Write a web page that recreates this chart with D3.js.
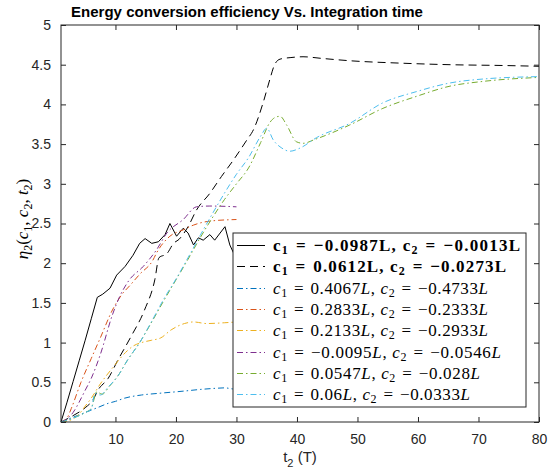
<!DOCTYPE html>
<html>
<head>
<meta charset="utf-8">
<script src="https://cdn.jsdelivr.net/npm/d3@7"></script>
<style>
  body { margin: 0; background: #fff; }
  text { font-family: "Liberation Sans", Arial, sans-serif; }
  .math { font-family: "Liberation Serif", "DejaVu Serif", serif; }
</style>
</head>
<body>
<div class="container"></div>
<script>
// values, t2 (T) vs eta
const tSolid = [1, 2, 3, 4, 5, 6, 7, 7.9, 9.1, 10.2, 11.6, 12.9, 14, 14.9, 16, 17.1, 18.2, 19, 20.1, 21.2, 22, 22.9, 23.7, 24.5, 25.6, 26.4, 27.3, 28.1, 28.9, 30];
const etaSolid = [0, 0.25, 0.51, 0.77, 1.03, 1.3, 1.57, 1.61, 1.685, 1.85, 1.96, 2.1, 2.25, 2.31, 2.25, 2.27, 2.36, 2.5, 2.34, 2.44, 2.38, 2.23, 2.32, 2.29, 2.36, 2.29, 2.38, 2.46, 2.23, 2.05];

const tDashed = [1, 3, 5, 6.3, 7.1, 8.8, 10.4, 12.6, 14.8, 16.5, 17.2, 18.5, 19.6, 20.5, 22, 23.4, 25.6, 27.5, 29.5, 31.7, 32.8, 34.4, 35.5, 36.3, 37.2, 39, 41, 44, 48.7, 57, 65.3, 74, 80];
const etaDashed = [0, 0.08, 0.18, 0.28, 0.4, 0.55, 0.78, 1.08, 1.41, 1.79, 2.07, 2.12, 2.25, 2.3, 2.46, 2.67, 2.88, 3.09, 3.3, 3.55, 3.68, 4.02, 4.31, 4.5, 4.57, 4.59, 4.6, 4.58, 4.55, 4.52, 4.5, 4.49, 4.48];

const tBlue = [1, 2, 3, 4, 5, 6, 7, 8.8, 10, 11.5, 14.3, 17, 21.4, 24, 26.7, 28, 29.4, 30];
const etaBlue = [0, 0.03, 0.06, 0.09, 0.12, 0.15, 0.18, 0.235, 0.26, 0.3, 0.34, 0.36, 0.39, 0.41, 0.425, 0.43, 0.416, 0.41];

const tOrange = [1, 2, 2.7, 4.3, 6, 7.5, 9.5, 11, 12.4, 14, 16.2, 16.8, 19, 21.2, 22.9, 25.6, 30];
const etaOrange = [0, 0.05, 0.17, 0.5, 0.8, 1.06, 1.41, 1.6, 1.72, 1.86, 2.04, 2.13, 2.34, 2.42, 2.48, 2.53, 2.55];

const tYellow = [1, 2, 3, 4, 5, 6, 7.5, 9.5, 12, 13, 14.3, 16, 17.5, 19.2, 21.4, 22.9, 25.1, 28, 30];
const etaYellow = [0, 0.01, 0.04, 0.1, 0.2, 0.3, 0.48, 0.68, 0.9, 0.96, 1.0, 1.03, 1.06, 1.16, 1.24, 1.26, 1.24, 1.25, 1.26];

const tPurple = [1, 2, 3, 4, 5, 6, 7.5, 9.5, 10.7, 12.2, 14.6, 16.8, 18.5, 21.2, 23.4, 25.6, 30];
const etaPurple = [0, 0.04, 0.12, 0.25, 0.4, 0.55, 0.85, 1.35, 1.58, 1.78, 1.96, 2.17, 2.38, 2.55, 2.71, 2.72, 2.71];

const tGreen = [1, 2, 3, 4, 5, 6, 6.9, 7.8, 9, 10.4, 12, 14, 16, 18, 20, 22, 24, 26, 28, 30, 32, 34, 35.5, 36.5, 37.2, 38.3, 39.9, 41, 43, 48.7, 54.2, 59.7, 65.3, 70.8, 80];
const etaGreen = [0, 0.02, 0.05, 0.08, 0.12, 0.17, 0.38, 0.35, 0.45, 0.58, 0.78, 1.0, 1.26, 1.53, 1.79, 2.05, 2.32, 2.57, 2.8, 3.0, 3.2, 3.52, 3.77, 3.84, 3.85, 3.74, 3.53, 3.51, 3.56, 3.74, 3.95, 4.1, 4.23, 4.29, 4.34];

const tCyan = [1, 2, 3, 4, 5, 6, 6.6, 7.5, 8.8, 10.4, 12, 14, 16, 18, 20, 22, 24, 26, 28, 30, 32, 34, 35, 36.1, 37.5, 38.8, 40.5, 43.2, 48.7, 54.2, 59.7, 65.3, 70.8, 80];
const etaCyan = [0, 0.02, 0.05, 0.08, 0.12, 0.16, 0.36, 0.34, 0.44, 0.58, 0.78, 1.0, 1.27, 1.55, 1.8, 2.07, 2.35, 2.62, 2.88, 3.12, 3.33, 3.6, 3.7, 3.55, 3.45, 3.41, 3.45, 3.58, 3.76, 4.02, 4.16, 4.27, 4.32, 4.35];

const xTicks = [10, 20, 30, 40, 50, 60, 70, 80];
const yTicks = [0, 0.5, 1, 1.5, 2, 2.5, 3, 3.5, 4, 4.5, 5];

// legend labels: [c1, c2]
const c1Labels = ["\u22120.0987", "0.0612", "0.4067", "0.2833", "0.2133", "\u22120.0095", "0.0547", "0.06"];
const c2Labels = ["\u22120.0013", "\u22120.0273", "\u22120.4733", "\u22120.2333", "\u22120.2933", "\u22120.0546", "\u22120.028", "\u22120.0333"];

const dashDot = "6,3,1.5,3";
const series = [
  { t: tSolid, eta: etaSolid, color: "#000000", dash: null, bold: true, curve: d3.curveLinear },
  { t: tDashed, eta: etaDashed, color: "#000000", dash: "8,5", bold: true, curve: d3.curveMonotoneX },
  { t: tBlue, eta: etaBlue, color: "#0072BD", dash: dashDot, bold: false, curve: d3.curveMonotoneX },
  { t: tOrange, eta: etaOrange, color: "#D95319", dash: dashDot, bold: false, curve: d3.curveMonotoneX },
  { t: tYellow, eta: etaYellow, color: "#EDB120", dash: dashDot, bold: false, curve: d3.curveMonotoneX },
  { t: tPurple, eta: etaPurple, color: "#7E2F8E", dash: dashDot, bold: false, curve: d3.curveMonotoneX },
  { t: tGreen, eta: etaGreen, color: "#77AC30", dash: dashDot, bold: false, curve: d3.curveMonotoneX },
  { t: tCyan, eta: etaCyan, color: "#4DBEEE", dash: dashDot, bold: false, curve: d3.curveMonotoneX }
];

// legend text widths (px) measured on the reference
const legendTextWidths = [247, 233, 215, 215, 215, 228, 207, 197];

const W = 551, H = 474;
const margin = { top: 25, right: 12, bottom: 52, left: 61 },
  width = W - margin.left - margin.right,
  height = H - margin.top - margin.bottom;
const axisColor = "#262626";

const svg = d3
  .select(".container")
  .append("svg")
  .attr("width", W)
  .attr("height", H);

const g = svg.append("g").attr("transform", `translate(${margin.left}, ${margin.top})`);

const xScale = d3.scaleLinear().domain([1, 80]).range([0, width]);
const yScale = d3.scaleLinear().domain([0, 5]).range([height, 0]);

// lines
series.forEach((s) => {
  const pts = s.t.map((t, i) => [t, s.eta[i]]);
  g.append("path")
    .datum(pts)
    .attr("fill", "none")
    .attr("stroke", s.color)
    .attr("stroke-width", 1)
    .attr("stroke-dasharray", s.dash)
    .attr("d", d3.line().curve(s.curve).x((d) => xScale(d[0])).y((d) => yScale(d[1])));
});

// axes (box with inward ticks on all sides)
const styleAxis = (sel) => {
  sel.select(".domain").remove();
  sel.selectAll("line").attr("stroke", axisColor);
  sel.selectAll("text").attr("fill", axisColor).style("font-size", "14px")
    .style("font-family", "'Liberation Sans', Arial, sans-serif");
};

g.append("g")
  .attr("transform", `translate(0, ${height})`)
  .call(d3.axisBottom(xScale).tickValues(xTicks).tickSize(-5).tickPadding(12).tickFormat(d3.format("d")))
  .call(styleAxis);
g.append("g")
  .call(d3.axisTop(xScale).tickValues(xTicks).tickSize(-5).tickFormat(""))
  .call(styleAxis);
g.append("g")
  .call(d3.axisLeft(yScale).tickValues(yTicks).tickSize(-5).tickPadding(10).tickFormat((d) => d))
  .call(styleAxis);
g.append("g")
  .attr("transform", `translate(${width}, 0)`)
  .call(d3.axisRight(yScale).tickValues(yTicks).tickSize(-5).tickFormat(""))
  .call(styleAxis);

g.append("rect")
  .attr("width", width)
  .attr("height", height)
  .attr("fill", "none")
  .attr("stroke", axisColor)
  .attr("stroke-width", 1);

// title
svg.append("text")
  .attr("x", 247)
  .attr("y", 17)
  .attr("text-anchor", "middle")
  .style("font-size", "15px")
  .style("font-weight", "bold")
  .attr("fill", "#000")
  .text("Energy conversion efficiency Vs. Integration time");

// math text helper: parts = [[text, "i" | "n" | "s"]], s = subscript
const mathText = (el, parts, subSize, drop) => {
  let low = false;
  parts.forEach(([txt, kind]) => {
    const ts = el.append("tspan").text(txt);
    if (kind === "s") {
      ts.style("font-size", subSize + "px").style("font-style", "normal");
      if (!low) ts.attr("dy", drop);
      low = true;
    } else {
      ts.style("font-style", kind === "i" ? "italic" : "normal");
      if (low) ts.attr("dy", -drop);
      low = false;
    }
  });
};

// x label: t2 (T)
const xl = svg.append("text")
  .attr("x", margin.left + width / 2)
  .attr("y", 462)
  .attr("text-anchor", "middle")
  .attr("fill", axisColor)
  .style("font-size", "15px");
xl.append("tspan").text("t");
xl.append("tspan").attr("dy", 5).style("font-size", "11px").text("2");
xl.append("tspan").attr("dy", -5).text(" (T)");

// y label: eta_2(c_1, c_2, t_2)
const yl = svg.append("text")
  .attr("class", "math")
  .attr("transform", `translate(28, 219) rotate(-90)`)
  .attr("text-anchor", "middle")
  .attr("fill", "#000")
  .style("font-size", "17px");
mathText(yl, [["\u03B7", "i"], ["2", "s"], ["(", "n"], ["c", "i"], ["1", "s"], [", ", "n"],
  ["c", "i"], ["2", "s"], [", ", "n"], ["t", "i"], ["2", "s"], [")", "n"]], 12, 4);

// legend
const lg = svg.append("g").attr("transform", "translate(233, 233)");
lg.append("rect")
  .attr("width", 293)
  .attr("height", 174)
  .attr("fill", "#fff")
  .attr("stroke", axisColor)
  .attr("stroke-width", 1);

series.forEach((s, i) => {
  const y = Math.round(12 + i * 21.3) + 0.5;
  lg.append("line")
    .attr("x1", 4).attr("x2", 32)
    .attr("y1", y).attr("y2", y)
    .attr("stroke", s.color)
    .attr("stroke-width", 1)
    .attr("stroke-dasharray", s.dash);
  const tx = lg.append("text")
    .attr("class", "math")
    .attr("x", 40)
    .attr("y", y + 5)
    .attr("fill", "#000")
    .attr("textLength", legendTextWidths[i])
    .attr("lengthAdjust", "spacing")
    .style("font-size", "17px")
    .style("font-weight", s.bold ? "bold" : "normal");
  const k = s.bold ? "n" : "i";
  mathText(tx, [["c", k], ["1", "s"], ["\u2004=\u2004" + c1Labels[i], "n"], ["L", k], [", ", "n"],
    ["c", k], ["2", "s"], ["\u2004=\u2004" + c2Labels[i], "n"], ["L", k]], 12, 3);
});
</script>
</body>
</html>
